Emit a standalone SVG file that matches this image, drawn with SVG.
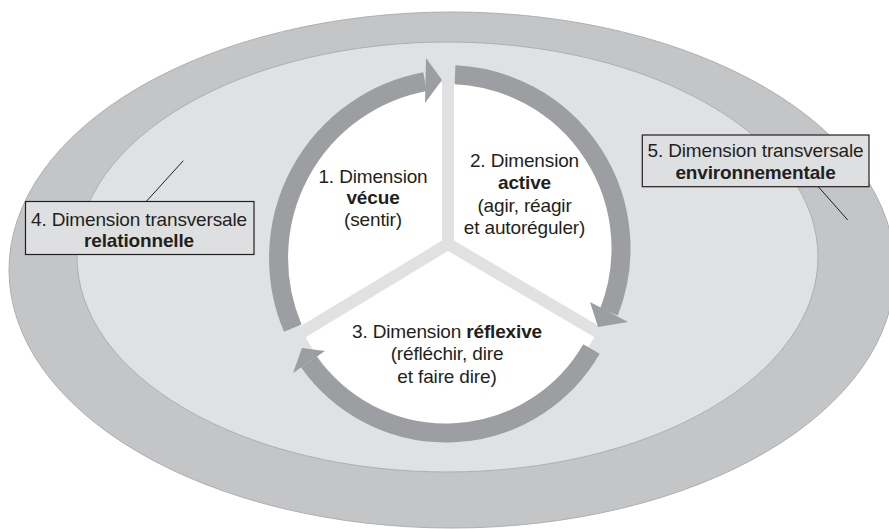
<svg xmlns="http://www.w3.org/2000/svg" width="889" height="529" viewBox="0 0 889 529">
<style>
.t{font-family:"Liberation Sans",Arial,Helvetica,sans-serif;font-size:19px;letter-spacing:-0.15px;fill:#231f20;text-anchor:middle}
.b{font-weight:bold}
.arc{fill:none;stroke:#9d9ea1;stroke-width:19}
.head{fill:#9d9ea1}
.spoke{stroke:#e0e1e3;stroke-width:12;stroke-linecap:round}
.box{fill:#dedfe1;stroke:#231f20;stroke-width:1.2}
.leader{stroke:#231f20;stroke-width:1;fill:none}
</style>
<rect width="889" height="529" fill="#ffffff"/>
<g id="environment-zone">
<ellipse cx="452" cy="270" rx="443" ry="258" fill="#c4c5c7" stroke="#aeafb2" stroke-width="1"/>
</g>
<g id="relational-zone">
<ellipse cx="447.5" cy="257" rx="370.5" ry="215" fill="#e0e1e3" stroke="#aeafb2" stroke-width="1"/>
</g>
<g id="core">
<ellipse cx="450" cy="254" rx="165" ry="172" fill="#ffffff"/>
<line class="spoke" x1="448" y1="244" x2="448" y2="58"/>
<line class="spoke" x1="448" y1="244" x2="281" y2="345"/>
<line class="spoke" x1="448" y1="244" x2="616" y2="343"/>
</g>
<g id="connectors">
<path class="arc" d="M292.8,328.1 A179.5,179.5 0 0 1 425,81.6"/>
<polygon class="head" points="426,58 442,80 425,103"/>
<path class="arc" d="M455,74.7 A174,174 0 0 1 609,312"/>
<polygon class="head" points="590,302 628,322 598,327"/>
<path class="arc" d="M591.5,349 A168,168 0 0 1 308.9,362.1"/>
<polygon class="head" points="325,351 302,348 293,373"/>
<line class="leader" x1="146.7" y1="201" x2="183.3" y2="160.7"/>
<line class="leader" x1="818.3" y1="186.7" x2="847.7" y2="220"/>
</g>
<g id="node-vecue">
<text class="t" x="373" y="182.7">1. Dimension</text>
<text class="t b" x="373" y="204.3">vécue</text>
<text class="t" x="373" y="225.5">(sentir)</text>
</g>
<g id="node-active">
<text class="t" x="524.5" y="167.3">2. Dimension</text>
<text class="t b" x="524.5" y="189.3">active</text>
<text class="t" x="524.5" y="211.7">(agir, réagir</text>
<text class="t" x="524.5" y="234">et autoréguler)</text>
</g>
<g id="node-reflexive">
<text class="t" x="447" y="337.7">3. Dimension <tspan class="b">réflexive</tspan></text>
<text class="t" x="447" y="360">(réfléchir, dire</text>
<text class="t" x="447" y="382.7">et faire dire)</text>
</g>
<g id="node-relationnelle">
<rect class="box" x="25.5" y="201.5" width="228.5" height="53"/>
<text class="t" x="139" y="226">4. Dimension transversale</text>
<text class="t b" x="139" y="246.7">relationnelle</text>
</g>
<g id="node-environnementale">
<rect class="box" x="642.3" y="135" width="226.7" height="51.7"/>
<text class="t" x="755.5" y="156.7">5. Dimension transversale</text>
<text class="t b" x="755.5" y="179.3">environnementale</text>
</g>
</svg>
